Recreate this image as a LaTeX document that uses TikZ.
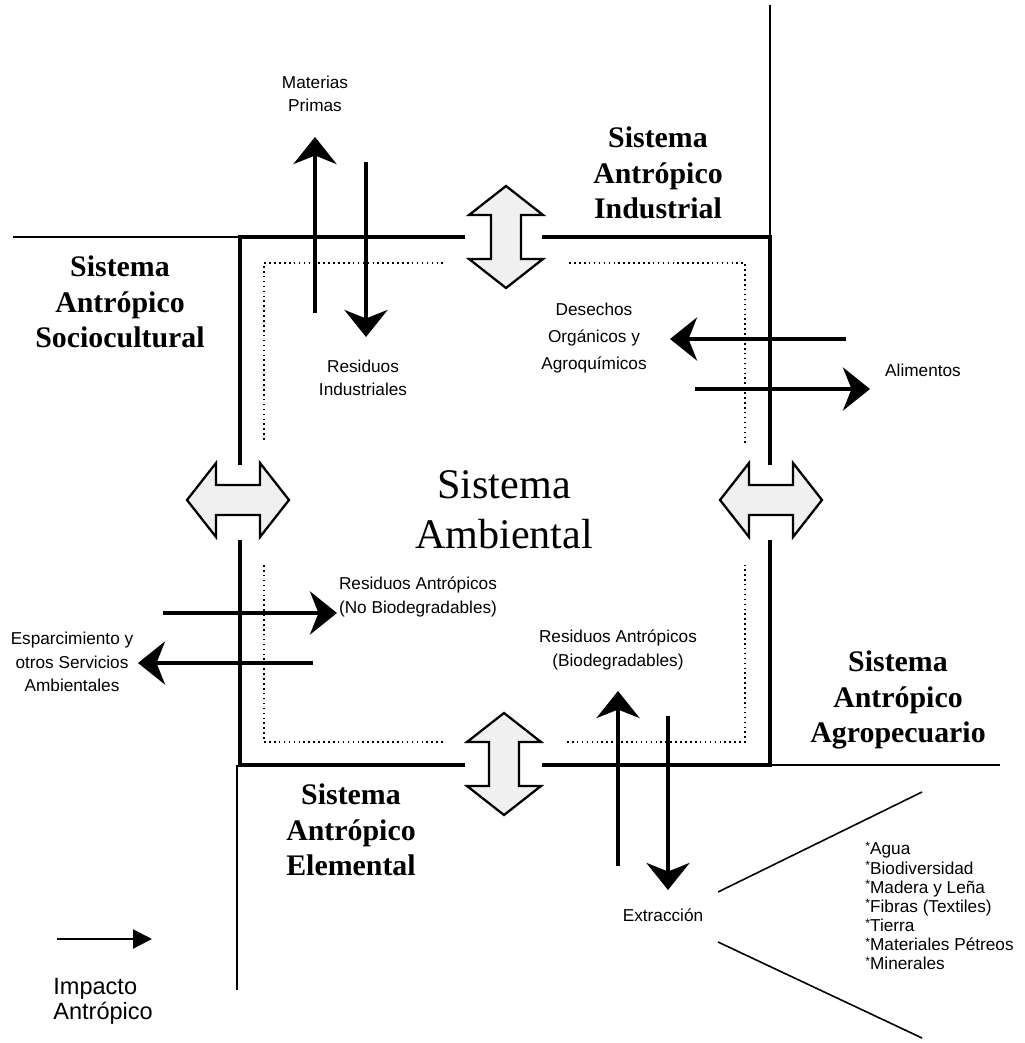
\documentclass[tikz,border=0pt]{standalone}
\usepackage{fontspec}
\setmainfont{Liberation Serif}
\setsansfont{Liberation Sans}
\usetikzlibrary{arrows.meta}

\tikzset{
  frame/.style={line width=2.6pt, line join=miter},
  axis/.style={line width=0.9pt},
  inner/.style={line width=0.9pt, dash pattern=on 0.9pt off 1.9pt},
  flow/.style={line width=2.6pt, -{Stealth[length=0.54cm,width=0.86cm,inset=0.17cm]}},
  sistema/.style={font=\bfseries\fontsize{17}{20.1}\selectfont, align=center, inner sep=0pt},
  rotulo/.style={font=\sffamily\fontsize{9.8}{13.2}\selectfont, align=center, inner sep=0pt},
  bidir/.pic={
    \draw[line width=1.3pt, line join=miter, fill=gray!12]
      (-51,0) -- (-22,37) -- (-22,15) -- (22,15) -- (22,37) -- (51,0)
      -- (22,-37) -- (22,-15) -- (-22,-15) -- (-22,-37) -- cycle;
  }
}

\begin{document}
\begin{tikzpicture}[x=0.02cm, y=-0.02cm]
    \useasboundingbox (0,0) rectangle (1024,1043);

    % Ejes de los sistemas antropicos
    \draw[axis] (13,237) -- (240,237);
    \draw[axis] (770,5) -- (770,237);
    \draw[axis] (770,765) -- (1000,765);
    \draw[axis] (237,765) -- (237,990);

    % Limite del sistema ambiental
    \draw[frame] (465,237) -- (240,237) -- (240,465);
    \draw[frame] (240,540) -- (240,765) -- (465,765);
    \draw[frame] (542,765) -- (770,765) -- (770,540);
    \draw[frame] (770,465) -- (770,237) -- (542,237);

    % Limite interior punteado
    \draw[inner] (443,263) -- (264,263) -- (264,443);
    \draw[inner] (264,565) -- (264,742) -- (443,742);
    \draw[inner] (567,742) -- (745,742) -- (745,565);
    \draw[inner] (745,443) -- (745,263) -- (567,263);

    % Intercambios entre sistemas
    \pic[rotate=90] at (506,237) {bidir};
    \pic[rotate=90] at (504,764) {bidir};
    \pic at (238,500) {bidir};
    \pic at (771,500) {bidir};

    % Flujos de impacto
    \draw[flow] (315,313) -- (315,137);
    \draw[flow] (366,162) -- (366,337);
    \draw[flow] (846,339) -- (670,339);
    \draw[flow] (695,389) -- (870,389);
    \draw[flow] (163,613) -- (337,613);
    \draw[flow] (313,663) -- (138,663);
    \draw[flow] (618,866) -- (618,691);
    \draw[flow] (668,716) -- (668,890);

    % Llave de extraccion
    \draw[axis] (718,892) -- (922,792);
    \draw[axis] (718,942) -- (922,1038);

    % Leyenda
    \draw[line width=1.2pt, -{Triangle[length=0.38cm,width=0.38cm]}] (57,939) -- (152,939);

    % Sistemas
    \node[sistema] (industrial) at (658,173) {Sistema\\Antrópico\\Industrial};
    \node[sistema] (sociocultural) at (120,302) {Sistema\\Antrópico\\Sociocultural};
    \node[sistema] (agropecuario) at (898,700) {Sistema\\Antrópico\\Agropecuario};
    \node[sistema] (elemental) at (351,830) {Sistema\\Antrópico\\Elemental};
    \node[font=\fontsize{24}{28.4}\selectfont, align=center, inner sep=0pt] (ambiental) at (504,510) {Sistema\\Ambiental};

    % Rotulos de flujos
    \node[rotulo] (materias) at (315,94) {Materias\\Primas};
    \node[rotulo] (resind) at (363,378) {Residuos\\Industriales};
    \node[rotulo, font=\sffamily\fontsize{9.8}{15.5}\selectfont] (desechos) at (594,338) {Desechos\\Orgánicos y\\Agroquímicos};
    \node[rotulo] (alimentos) at (923,370) {Alimentos};
    \node[rotulo] (resnobio) at (418,597) {Residuos Antrópicos\\(No Biodegradables)};
    \node[rotulo] (esparcimiento) at (72,662) {Esparcimiento y\\otros Servicios\\Ambientales};
    \node[rotulo] (resbio) at (618,650) {Residuos Antrópicos\\(Biodegradables)};
    \node[rotulo] (extraccion) at (663,915) {Extracción};
    \node[rotulo, font=\sffamily\fontsize{9.8}{10.9}\selectfont, align=left, anchor=west] (recursos) at (865,906)
      {{\scriptsize\raisebox{0.7ex}{*}}Agua\\{\scriptsize\raisebox{0.7ex}{*}}Biodiversidad\\{\scriptsize\raisebox{0.7ex}{*}}Madera y Leña\\{\scriptsize\raisebox{0.7ex}{*}}Fibras (Textiles)\\{\scriptsize\raisebox{0.7ex}{*}}Tierra\\{\scriptsize\raisebox{0.7ex}{*}}Materiales Pétreos\\{\scriptsize\raisebox{0.7ex}{*}}Minerales};
    \node[rotulo, font=\sffamily\fontsize{13.4}{14.2}\selectfont, align=left, anchor=west] (impacto) at (53,1001) {Impacto\\Antrópico};
\end{tikzpicture}
\end{document}
